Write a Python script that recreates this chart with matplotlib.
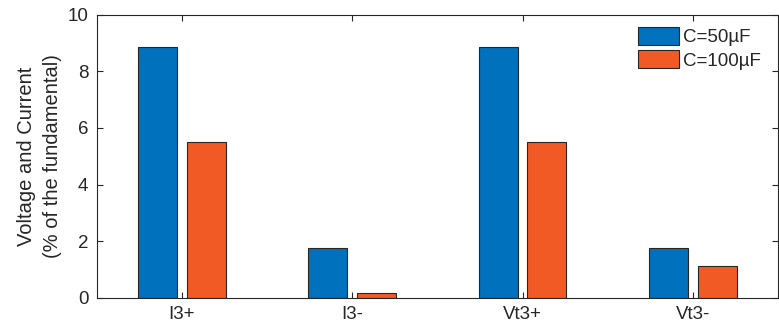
import matplotlib
matplotlib.use("Agg")
import matplotlib.pyplot as plt
import numpy as np

plt.rcParams["font.family"] = ["Liberation Sans", "DejaVu Sans"]

categories = ["I3+", "I3-", "Vt3+", "Vt3-"]
c50 = [8.87, 1.75, 8.85, 1.75]
c100 = [5.50, 0.15, 5.50, 1.12]
series_labels = ["C=50\u00b5F", "C=100\u00b5F"]

BLUE = "#0072BD"
ORANGE = "#F15A24"
DARK = "#262626"


def main():
    fig = plt.figure(figsize=(7.79, 3.28), dpi=100)
    ax = fig.add_axes([96.7 / 779, 1 - 297.7 / 328, (778 - 96.7) / 779, (297.7 - 14.7) / 328])

    x = np.arange(1, len(categories) + 1)
    w = 0.229
    off = 0.143
    ax.bar(x - off, c50, w, color=BLUE, edgecolor=DARK, linewidth=0.8, label=series_labels[0])
    ax.bar(x + off, c100, w, color=ORANGE, edgecolor=DARK, linewidth=0.8, label=series_labels[1])

    ax.set_xlim(0.5, 4.5)
    ax.set_ylim(0, 10)
    ax.set_xticks(x)
    ax.set_xticklabels(categories)
    ax.set_yticks([0, 2, 4, 6, 8, 10])

    ax.tick_params(direction="in", length=4, width=0.8, colors=DARK, labelsize=13.5,
                   top=True, right=True, pad=6)
    for s in ax.spines.values():
        s.set_color(DARK)
        s.set_linewidth(0.8)

    ax.set_ylabel("Voltage and Current\n(% of the fundamental)", fontsize=14.5, color=DARK,
                  labelpad=4, linespacing=1.45)

    leg = ax.legend(loc="upper left", bbox_to_anchor=(638 / 779, 1 - 27 / 328),
                    bbox_transform=fig.transFigure, frameon=False, fontsize=13.5,
                    handlelength=2.2, handleheight=1.1, handletextpad=0.2,
                    borderpad=0, borderaxespad=0, labelspacing=0.2)
    for t in leg.get_texts():
        t.set_color(DARK)

    fig.savefig("out.png", dpi=100)
    plt.close(fig)


if __name__ == "__main__":
    main()
